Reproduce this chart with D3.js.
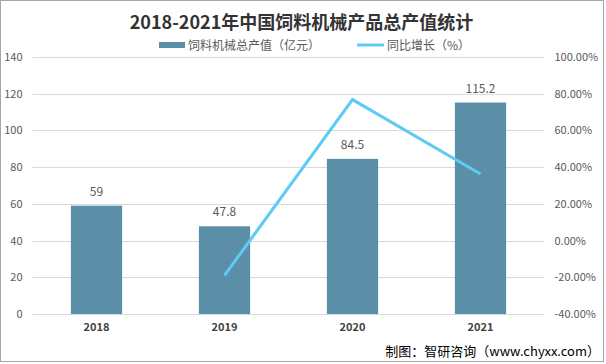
<!DOCTYPE html>
<html><head><meta charset="utf-8">
<script src="https://cdn.jsdelivr.net/npm/d3@7"></script>
<style>body{margin:0;background:#fff}svg{display:block}</style>
</head><body>
<svg id="c" width="606" height="364"></svg>
<script>
const categories = ["2018", "2019", "2020", "2021"];
const outputValues = [59, 47.8, 84.5, 115.2];
const growthValues = [null, -19.0, 76.8, 36.3];
const leftTicks = [0, 20, 40, 60, 80, 100, 120, 140];
const rightTicks = [-40, -20, 0, 20, 40, 60, 80, 100];
const titleText = "2018-2021年中国饲料机械产品总产值统计";
const legendBar = "饲料机械总产值（亿元）";
const legendLine = "同比增长（%）";
const sourceText = "制图：智研咨询（www.chyxx.com）";

(function () {
const svg = d3.select("#c");
const font = "'Microsoft YaHei','Noto Sans CJK SC','Liberation Sans',sans-serif";
svg.append("rect").attr("x",0.5).attr("y",0.5).attr("width",603).attr("height",361)
  .attr("fill","#fff").attr("stroke","#a6a6a6");

const pLeft = 32.5, pRight = 544.5, pTop = 57, pBottom = 314;
const x = d3.scaleBand().domain(categories).range([pLeft, pRight]).paddingInner(0.6).paddingOuter(0.3);
const y = d3.scaleLinear().domain([0, 140]).range([pBottom, pTop]);
const y2 = d3.scaleLinear().domain([-40, 100]).range([pBottom, pTop]);

// grid
svg.append("g").selectAll("line").data(leftTicks).join("line")
  .attr("x1", pLeft).attr("x2", pRight)
  .attr("y1", d => Math.round(y(d)) + 0.5).attr("y2", d => Math.round(y(d)) + 0.5)
  .attr("stroke", "#d9d9d9").attr("stroke-width", 1);

// left axis
const ga = svg.append("g").attr("transform", `translate(${pLeft - 10},0)`)
  .call(d3.axisLeft(y).tickValues(leftTicks).tickSize(0).tickPadding(0));
ga.select(".domain").remove();
ga.selectAll("text").attr("font-family", font).attr("font-size", 11).attr("fill", "#595959");

const gr = svg.append("g").attr("transform", `translate(${pRight + 10},0)`)
  .call(d3.axisRight(y2).tickValues(rightTicks).tickSize(0).tickPadding(0).tickFormat(d => d.toFixed(2) + "%"));
gr.select(".domain").remove();
gr.selectAll("text").attr("font-family", font).attr("font-size", 11).attr("fill", "#595959");

// x axis labels
const gx = svg.append("g").attr("transform", `translate(0,${pBottom + 9})`)
  .call(d3.axisBottom(x).tickSize(0).tickPadding(0));
gx.select(".domain").remove();
gx.selectAll("text").attr("font-family", font).attr("font-size", 11).attr("font-weight", "bold").attr("fill", "#404040");

// bars
svg.append("g").selectAll("rect").data(categories).join("rect")
  .attr("x", d => x(d)).attr("width", x.bandwidth())
  .attr("y", (d, i) => y(outputValues[i])).attr("height", (d, i) => y(0) - y(outputValues[i]))
  .attr("fill", "#5b8fa8");

svg.append("g").selectAll("text").data(categories).join("text")
  .attr("x", d => x(d) + x.bandwidth() / 2)
  .attr("y", (d, i) => y(outputValues[i]) - 10)
  .attr("text-anchor", "middle").attr("font-family", font).attr("font-size", 12).attr("fill", "#595959")
  .text((d, i) => outputValues[i]);

// line
const pts = categories.map((c, i) => [c, growthValues[i]]).filter(p => p[1] !== null);
svg.append("path").datum(pts)
  .attr("d", d3.line().x(p => x(p[0]) + x.bandwidth() / 2).y(p => y2(p[1])))
  .attr("fill", "none").attr("stroke", "#5ecbf4").attr("stroke-width", 3).attr("stroke-linejoin", "miter");

// title
svg.append("text").attr("x", 301.5).attr("y", 29).attr("text-anchor", "middle")
  .attr("font-family", font).attr("font-size", 18).attr("font-weight", "bold").attr("fill", "#333")
  .text(titleText);

// legend
svg.append("rect").attr("x", 159).attr("y", 42).attr("width", 26).attr("height", 6).attr("fill", "#5b8fa8");
svg.append("text").attr("x", 188).attr("y", 49.5).attr("font-family", font).attr("font-size", 12).attr("fill", "#595959").text(legendBar);
svg.append("line").attr("x1", 357).attr("x2", 384).attr("y1", 45).attr("y2", 45).attr("stroke", "#5ecbf4").attr("stroke-width", 3);
svg.append("text").attr("x", 387).attr("y", 49.5).attr("font-family", font).attr("font-size", 12).attr("fill", "#595959").text(legendLine);

// source
svg.append("text").attr("x", 600).attr("y", 356).attr("text-anchor", "end")
  .attr("font-family", font).attr("font-size", 13).attr("fill", "#000").text(sourceText);
})();
</script>
</body></html>
